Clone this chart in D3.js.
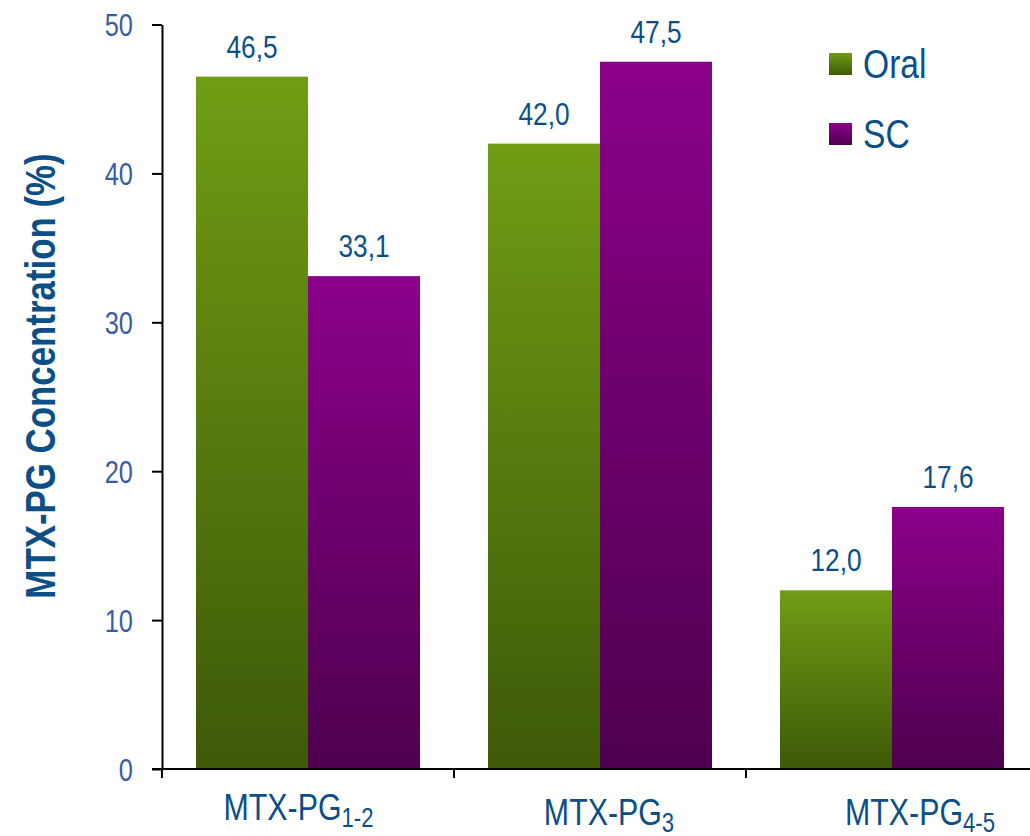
<!DOCTYPE html>
<html><head><meta charset="utf-8">
<script src="https://cdn.jsdelivr.net/npm/d3@7"></script>
<style>
html,body{margin:0;padding:0;background:#fff;}
svg{display:block;}
text{font-family:"Liberation Sans",Arial,sans-serif;}
</style></head>
<body>
<svg id="chart" width="1030" height="836"></svg>
<script>
const categories = ["MTX-PG", "MTX-PG", "MTX-PG"];
const categorySubs = ["1-2", "3", "4-5"];
const categoryKeys = ["pg12", "pg3", "pg45"];
const seriesNames = ["Oral", "SC"];
const oralValues = [46.5, 42.0, 12.0];
const scValues = [33.1, 47.5, 17.6];
const yTicks = [0, 10, 20, 30, 40, 50];

(function(){
const svg = d3.select("#chart");
const W = 1030;
const mLeft = 162, mTop = 24.5, mBottom = 769, mRight = 1038;
const textBlue = "#0b4f86", tickBlue = "#3a5ca6";
const NX = 0.82; // narrow-font horizontal compression

function narrowAt(sel, fx, fy) {
  sel.attr("x", 0).attr("y", 0)
     .attr("transform", (d, i) => `translate(${fx(d, i)},${fy(d, i)}) scale(${NX},1)`);
}

const defs = svg.append("defs");
const grads = [
  {id:"gOral", c1:"#6f9d14", c2:"#3e5908"},
  {id:"gSC", c1:"#8b0089", c2:"#4e004f"}
];
grads.forEach(g => {
  const lg = defs.append("linearGradient").attr("id", g.id).attr("x1",0).attr("y1",0).attr("x2",0).attr("y2",1);
  lg.append("stop").attr("offset","0%").attr("stop-color", g.c1);
  lg.append("stop").attr("offset","100%").attr("stop-color", g.c2);
});
const fills = ["url(#gOral)", "url(#gSC)"];

const x0 = d3.scaleBand().domain(categoryKeys).range([mLeft, mRight]).padding(0);
const x1 = d3.scaleBand().domain(seriesNames).range([0, x0.bandwidth()]).paddingInner(0).paddingOuter(0.3036);
const y = d3.scaleLinear().domain([0, 50]).range([mBottom, mTop]);

const data = categoryKeys.map((k, i) => ({key:k, vals:[oralValues[i], scValues[i]]}));

const groups = svg.append("g").selectAll("g").data(data).join("g")
  .attr("transform", d => `translate(${x0(d.key)},0)`);
groups.selectAll("rect").data(d => d.vals.map((v, j) => ({s: seriesNames[j], v, j})))
  .join("rect")
  .attr("x", d => x1(d.s))
  .attr("y", d => y(d.v))
  .attr("width", x1.bandwidth())
  .attr("height", d => y(0) - y(d.v))
  .attr("fill", d => fills[d.j]);
const vl = groups.selectAll("text").data(d => d.vals.map((v, j) => ({s: seriesNames[j], v, j})))
  .join("text")
  .attr("text-anchor", "middle")
  .attr("font-size", 32)
  .attr("fill", textBlue)
  .text(d => d.v.toFixed(1).replace(".", ","));
narrowAt(vl, d => x1(d.s) + x1.bandwidth()/2, d => y(d.v) - 19);

const yAxis = d3.axisLeft(y).tickValues(yTicks).tickSize(10).tickSizeOuter(0).tickPadding(19);
const ya = svg.append("g").attr("transform", `translate(${mLeft},0)`).call(yAxis);
ya.select(".domain").attr("stroke", "#000").attr("stroke-width", 2);
ya.selectAll(".tick line").attr("stroke", "#000").attr("stroke-width", 2);
ya.selectAll(".tick text").attr("font-size", 31).attr("fill", tickBlue)
  .attr("font-family", '"Liberation Sans",Arial,sans-serif')
  .attr("dy", "0.36em")
  .attr("transform", `translate(-29,0) scale(${NX},1)`).attr("x", 0);

const xa = svg.append("g");
xa.append("line").attr("x1", mLeft - 10).attr("x2", W).attr("y1", y(0)).attr("y2", y(0))
  .attr("stroke", "#000").attr("stroke-width", 2);
xa.selectAll("line.tk").data(categoryKeys).join("line").attr("class","tk")
  .attr("x1", d => x0(d)).attr("x2", d => x0(d))
  .attr("y1", y(0)).attr("y2", y(0) + 9)
  .attr("stroke", "#000").attr("stroke-width", 2);
const labelShift = [-9.5, 9, 28];
const labelDrop = [51, 56, 56];
const xl = xa.selectAll("text").data(categoryKeys).join("text")
  .attr("text-anchor", "middle")
  .attr("font-size", 37)
  .attr("fill", textBlue);
xl.append("tspan").text((d, i) => categories[i]);
xl.append("tspan").attr("font-size", 27).attr("dy", 7).text((d, i) => categorySubs[i]);
narrowAt(xl, (d, i) => x0(d) + x0.bandwidth()/2 + labelShift[i], (d, i) => y(0) + labelDrop[i]);

svg.append("text")
  .attr("transform", `translate(55,${(155 + 597)/2}) rotate(-90) scale(${NX},1)`)
  .attr("text-anchor", "middle")
  .attr("font-size", 42.5)
  .attr("font-weight", "bold")
  .attr("fill", textBlue)
  .text("MTX-PG Concentration (%)");

const lg = svg.append("g").attr("transform", "translate(829,53)");
seriesNames.forEach((s, i) => {
  const g = lg.append("g").attr("transform", `translate(0,${i*70})`);
  g.append("rect").attr("width", 23).attr("height", 22).attr("fill", fills[i]);
  g.append("text").attr("transform", `translate(34,25) scale(${NX},1)`)
    .attr("font-size", 41).attr("fill", textBlue).text(s);
});
})();
</script>
</body></html>
